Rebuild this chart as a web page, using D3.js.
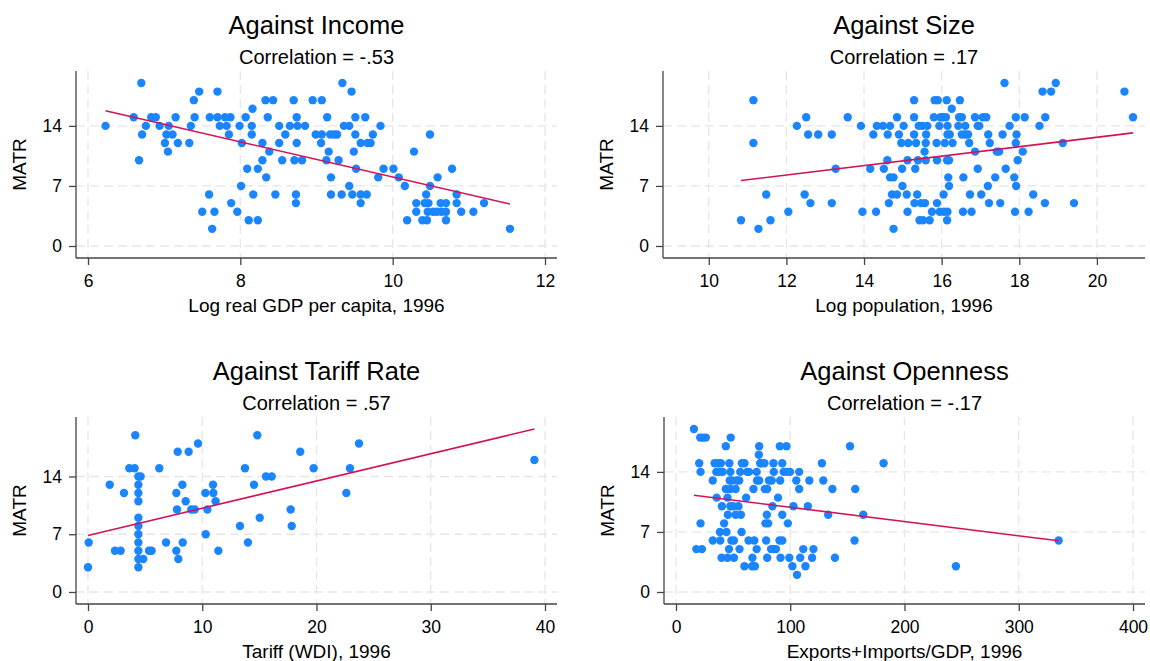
<!DOCTYPE html>
<html>
<head>
<meta charset="utf-8">
<script src="https://cdn.jsdelivr.net/npm/d3@7"></script>
<style>
body { margin: 0; background: #fff; }
svg { display: block; font-family: "Liberation Sans", Arial, sans-serif; }
</style>
</head>
<body>
<svg id="chart" width="1150" height="661"></svg>
<script>
// MATR against log income (x, MATR)
var incomePts = [[6.23,14],[6.60,15],[6.70,19],[6.67,10],[6.71,13],[6.76,14],[6.83,15],[6.89,15],[6.94,14],[7.01,12],[7.03,13],[7.05,11],[7.06,14],[7.11,13],[7.15,15],[7.18,12],[7.33,12],[7.35,14],[7.40,15],[7.39,17],[7.46,18],[7.59,6],[7.50,4],[7.66,4],[7.63,2],[7.60,15],[7.70,18],[7.70,15],[7.73,14],[7.80,15],[7.82,14],[7.87,15],[7.85,13],[7.88,5],[7.96,4],[7.99,14],[8.01,7],[8.02,12],[8.07,15],[8.09,9],[8.11,3],[8.15,14],[8.15,13],[8.16,16],[8.17,6],[8.23,9],[8.23,3],[8.29,12],[8.29,10],[8.33,17],[8.34,8],[8.36,15],[8.38,11],[8.43,17],[8.46,6],[8.51,14],[8.51,12],[8.55,10],[8.59,13],[8.65,14],[8.70,17],[8.71,10],[8.73,6],[8.73,5],[8.74,15],[8.74,12],[8.75,14],[8.81,10],[8.85,14],[8.95,17],[8.99,13],[9.07,17],[9.07,13],[9.06,12],[9.13,10],[9.14,15],[9.16,11],[9.19,8],[9.19,6],[9.18,13],[9.23,13],[9.27,13],[9.29,10],[9.34,19],[9.33,6],[9.36,14],[9.43,14],[9.43,7],[9.46,18],[9.47,6],[9.49,11],[9.51,15],[9.51,13],[9.52,9],[9.58,12],[9.58,5],[9.58,6],[9.64,15],[9.66,6],[9.67,12],[9.71,12],[9.74,13],[9.81,8],[9.84,14],[9.88,9],[10.01,9],[10.08,8],[10.16,7],[10.19,3],[10.28,11],[10.31,5],[10.31,4],[10.39,3],[10.42,5],[10.44,6],[10.45,3],[10.46,4],[10.47,5],[10.49,13],[10.49,7],[10.53,4],[10.59,8],[10.58,4],[10.63,5],[10.64,4],[10.70,5],[10.70,4],[10.70,3],[10.78,9],[10.84,6],[10.84,5],[10.90,4],[11.06,4],[11.20,5],[11.54,2]];
var incomeFit = [[6.23,15.76],[11.54,4.9]];

// MATR against log population
var sizePts = [[10.83,3],[11.15,17],[11.15,12],[11.28,2],[11.48,6],[11.59,3],[12.05,4],[12.27,14],[12.47,6],[12.51,15],[12.56,13],[12.62,5],[12.82,13],[13.17,13],[13.17,5],[13.27,9],[13.58,15],[13.92,14],[13.96,4],[14.16,9],[14.24,13],[14.31,4],[14.33,14],[14.49,14],[14.51,9],[14.60,10],[14.61,13],[14.64,5],[14.67,14],[14.67,8],[14.72,6],[14.76,8],[14.76,2],[14.85,6],[14.85,15],[14.90,13],[14.96,12],[14.98,9],[14.99,7],[15.02,14],[15.10,6],[15.12,10],[15.12,4],[15.14,12],[15.29,17],[15.29,15],[15.29,13],[15.30,5],[15.32,9],[15.34,12],[15.37,6],[15.39,10],[15.41,14],[15.43,3],[15.47,5],[15.50,14],[15.52,3],[15.56,11],[15.57,5],[15.59,12],[15.59,10],[15.60,13],[15.63,14],[15.69,3],[15.75,4],[15.80,15],[15.82,17],[15.87,12],[15.88,10],[15.88,5],[15.90,17],[15.94,14],[15.95,4],[15.97,15],[16.03,15],[16.05,6],[16.06,4],[16.08,12],[16.11,15],[16.13,17],[16.14,10],[16.14,3],[16.15,13],[16.15,14],[16.15,4],[16.17,8],[16.19,10],[16.19,7],[16.21,13],[16.26,16],[16.28,12],[16.43,14],[16.45,15],[16.47,17],[16.52,15],[16.52,13],[16.55,4],[16.56,8],[16.61,14],[16.61,13],[16.68,13],[16.71,12],[16.73,6],[16.77,4],[16.86,11],[16.86,15],[16.93,9],[16.93,14],[16.97,14],[17.02,6],[17.06,15],[17.15,15],[17.19,7],[17.20,13],[17.22,5],[17.24,12],[17.38,8],[17.42,11],[17.48,11],[17.51,5],[17.57,13],[17.62,19],[17.65,9],[17.75,14],[17.87,8],[17.89,4],[17.91,12],[17.92,7],[17.93,13],[17.91,15],[17.96,10],[18.09,11],[18.14,15],[18.24,4],[18.36,6],[18.52,14],[18.60,18],[18.66,5],[18.67,15],[18.82,18],[18.94,19],[19.12,12],[19.41,5],[20.71,18],[20.93,15]];
var sizeFit = [[10.83,7.63],[20.93,13.19]];

// MATR against tariff rate
var tariffPts = [[0.06,6],[0,3],[1.90,13],[2.36,5],[2.86,5],[3.15,12],[3.62,15],[4.08,15],[4.14,19],[4.41,14],[4.61,14],[4.41,13],[4.41,12],[4.41,11],[4.41,9],[4.41,8],[4.41,7],[4.41,6],[4.41,5],[4.41,4],[4.41,3],[4.84,4],[5.34,5],[5.57,5],[6.24,15],[6.83,6],[7.73,5],[7.73,12],[7.79,10],[7.85,17],[7.91,4],[8.26,13],[8.29,6],[8.55,11],[8.81,17],[9.04,10],[9.34,10],[9.63,18],[10.27,12],[10.30,7],[10.45,10],[10.94,13],[10.97,12],[11.17,11],[11.41,5],[13.30,8],[13.74,15],[14.00,6],[14.53,13],[14.82,19],[15.03,9],[15.58,14],[16.08,14],[17.74,10],[17.83,8],[18.58,17],[19.75,15],[22.61,12],[22.93,15],[23.72,18],[39.07,16]];
var tariffFit = [[0,6.85],[39.07,19.76]];

// MATR against openness
var openPts = [[15.7,19],[21.2,18],[23.6,18],[26.1,18],[47.9,18],[43.6,17],[20.3,15],[21.5,14],[21.5,8],[17.8,5],[22.7,5],[32.2,13],[32.2,6],[33.8,15],[35.3,14],[35.6,11],[36.8,15],[37.8,14],[38.4,7],[38.7,6],[39.9,4],[40.2,10],[39.3,15],[40.8,14],[42.1,8],[43.6,12],[44.2,7],[45.1,11],[45.1,4],[45.4,9],[46.4,5],[46.7,15],[47.6,14],[47.0,13],[47.6,12],[47.6,10],[48.5,6],[49.1,13],[50.0,10],[50.7,4],[50.7,6],[52.2,12],[52.2,9],[53.1,13],[54.6,10],[55.3,13],[55.6,5],[56.2,14],[56.8,9],[57.4,7],[57.7,15],[59.9,15],[59.9,3],[61.4,11],[62.3,14],[63.5,6],[63.9,14],[66.6,3],[66.9,4],[68.5,6],[67.8,12],[69.1,3],[70.6,14],[70.9,13],[70.6,5],[72.5,16],[72.8,17],[72.8,13],[73.7,15],[74.6,15],[77.4,15],[77.7,12],[78.9,6],[79.5,9],[79.8,4],[78.3,8],[79.8,12],[80.7,8],[81.4,13],[83.8,13],[84.4,10],[85.3,15],[85.6,14],[83.2,5],[85.3,5],[87.5,5],[89.3,11],[90.9,17],[91.2,13],[90.6,6],[91.5,4],[93.0,9],[93.0,15],[93.0,6],[94.2,14],[96.7,17],[97.3,14],[97.9,8],[99.2,4],[99.8,14],[101.9,3],[102.8,10],[105.3,13],[105.9,2],[107.8,14],[107.8,12],[108.7,4],[111.4,5],[113.3,3],[115.4,10],[116.7,13],[119.1,4],[120.3,5],[127.7,15],[128.9,13],[133.2,9],[136.9,12],[139.1,4],[152.3,17],[156.3,6],[156.9,12],[163.9,9],[181.7,15],[245.0,3],[334.9,6]];
var openFit = [[15.7,11.28],[334.9,5.97]];

var yTicks = [0, 7, 14];
var incomeTicks = [6, 8, 10, 12];
var sizeTicks = [10, 12, 14, 16, 18, 20];
var tariffTicks = [0, 10, 20, 30, 40];
var openTicks = [0, 100, 200, 300, 400];

var panels = [
  {title: "Against Income", sub: "Correlation = -.53", xTitle: "Log real GDP per capita, 1996",
   pts: incomePts, fit: incomeFit, ticks: incomeTicks, xDomain: [6, 12], left: 76, top: 71, w: 481},
  {title: "Against Size", sub: "Correlation = .17", xTitle: "Log population, 1996",
   pts: sizePts, fit: sizeFit, ticks: sizeTicks, xDomain: [9.13, 20.93], left: 663, top: 71, w: 482},
  {title: "Against Tariff Rate", sub: "Correlation = .57", xTitle: "Tariff (WDI), 1996",
   pts: tariffPts, fit: tariffFit, ticks: tariffTicks, xDomain: [0, 40], left: 76, top: 417, w: 481},
  {title: "Against Openness", sub: "Correlation = -.17", xTitle: "Exports+Imports/GDP, 1996",
   pts: openPts, fit: openFit, ticks: openTicks, xDomain: [0, 400], left: 664, top: 417, w: 481}
];

var H = 187, pad = 12;
var svg = d3.select("#chart");

panels.forEach(function(p) {
  var g = svg.append("g").attr("transform", "translate(" + p.left + "," + p.top + ")");
  var yMax = d3.max(p.pts.concat(p.fit), function(d) { return d[1]; });
  var x = d3.scaleLinear().domain(p.xDomain).range([pad, p.w - pad]);
  var y = d3.scaleLinear().domain([0, yMax]).range([H - pad, pad]);

  // grid
  g.selectAll(".hg").data(yTicks).enter().append("line")
    .attr("x1", 0).attr("x2", p.w)
    .attr("y1", function(d) { return y(d); }).attr("y2", function(d) { return y(d); })
    .attr("stroke", "#e6e6e6").attr("stroke-width", 1.3).attr("stroke-dasharray", "9,5");
  g.selectAll(".vg").data(p.ticks).enter().append("line")
    .attr("y1", 0).attr("y2", H)
    .attr("x1", function(d) { return x(d); }).attr("x2", function(d) { return x(d); })
    .attr("stroke", "#e6e6e6").attr("stroke-width", 1.3).attr("stroke-dasharray", "9,5");

  // axes
  var xa = g.append("g").attr("transform", "translate(0," + H + ")")
    .call(d3.axisBottom(x).tickValues(p.ticks).tickFormat(d3.format("d")).tickSize(7).tickPadding(10).tickSizeOuter(0));
  var ya = g.append("g")
    .call(d3.axisLeft(y).tickValues(yTicks).tickFormat(d3.format("d")).tickSize(7).tickPadding(7).tickSizeOuter(0));
  [xa, ya].forEach(function(a) {
    a.select(".domain").remove();
    a.selectAll("line").attr("stroke", "#444").attr("stroke-width", 1.3);
    a.selectAll("text").attr("font-size", 17.5).attr("fill", "#000")
      .style("font-family", "'Liberation Sans', Arial, sans-serif");
  });
  g.append("line").attr("x1", 0).attr("x2", p.w).attr("y1", H).attr("y2", H)
    .attr("stroke", "#444").attr("stroke-width", 1.3);
  g.append("line").attr("x1", 0).attr("x2", 0).attr("y1", 0).attr("y2", H)
    .attr("stroke", "#444").attr("stroke-width", 1.3);

  // points
  g.selectAll("circle").data(p.pts).enter().append("circle")
    .attr("cx", function(d) { return x(d[0]); })
    .attr("cy", function(d) { return y(d[1]); })
    .attr("r", 4.2).attr("fill", "#1a85ff");

  // fitted line
  g.append("path").datum(p.fit)
    .attr("d", d3.line().x(function(d) { return x(d[0]); }).y(function(d) { return y(d[1]); }))
    .attr("fill", "none").attr("stroke", "#d41159").attr("stroke-width", 1.6);

  // titles
  g.append("text").attr("x", p.w / 2).attr("y", -36.7).attr("text-anchor", "middle")
    .attr("font-size", 25.5).attr("fill", "#000").text(p.title);
  g.append("text").attr("x", p.w / 2).attr("y", -6.7).attr("text-anchor", "middle")
    .attr("font-size", 20).attr("fill", "#000").text(p.sub);
  g.append("text").attr("x", p.w / 2).attr("y", H + 53.7).attr("text-anchor", "middle")
    .attr("font-size", 19).attr("fill", "#000").text(p.xTitle);
  g.append("text").attr("transform", "translate(-50," + (H / 2) + ") rotate(-90)")
    .attr("text-anchor", "middle").attr("font-size", 19).attr("fill", "#000").text("MATR");
});
</script>
</body>
</html>
